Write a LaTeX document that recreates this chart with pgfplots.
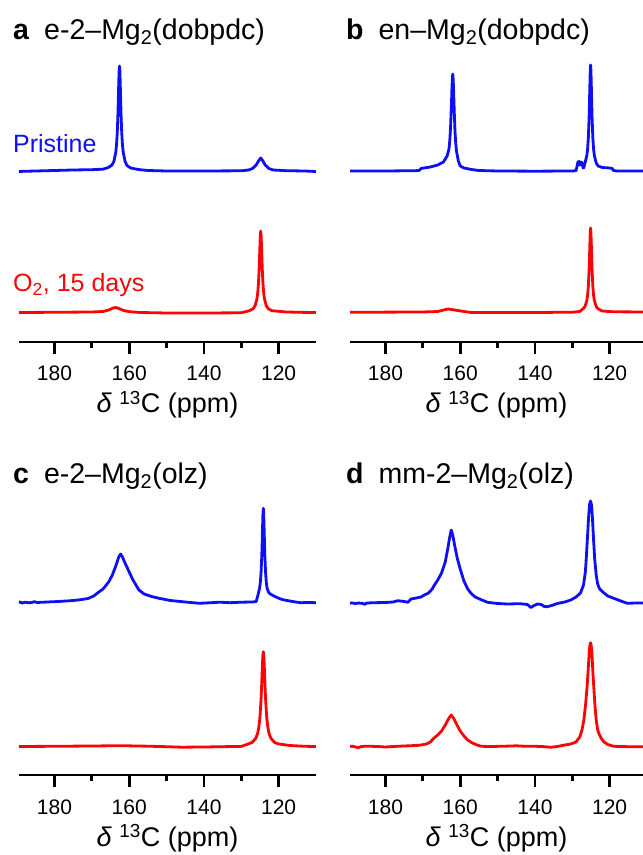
\documentclass[border=0pt]{standalone}
\usepackage{pgfplots}
\pgfplotsset{compat=1.18}
\usepackage{fontspec}
\setmainfont{Liberation Sans}
\definecolor{sblue}{RGB}{15,15,245}
\definecolor{sred}{RGB}{250,5,5}
\pgfplotsset{
  nmr/.style={
    scale only axis, width=297bp, height=300bp,
    ymin=0, ymax=300, xmin=110, xmax=189.5, x dir=reverse,
    axis x line=bottom, axis y line=none, ytick=\empty,
    axis line style={-, line width=2.8bp, black},
    xtick={120,140,160,180}, minor xtick={130,150,170},
    tick align=outside, major tick length=12bp, minor tick length=6bp,
    tick style={line width=2.8bp, black},
    /pgf/number format/assume math mode=true,
    xticklabel style={font=\fontsize{21bp}{21bp}\selectfont, anchor=base, yshift=-27bp},
    xlabel={\textit{δ} \textsuperscript{13}C (ppm)},
    xlabel style={font=\fontsize{27bp}{27bp}\selectfont, at={(axis description cs:0.5,0)}, anchor=base, yshift=-71bp},
    every axis plot/.append style={line width=2.8bp, line join=round, mark=none},
  },
  nmrR/.style={nmr, width=293bp, xmin=111.07},
}
\newcommand{\tf}{\fontsize{28.5bp}{30bp}\selectfont}
\newcommand{\lf}{\fontsize{25bp}{26bp}\selectfont}
\begin{document}
\begin{tikzpicture}
\useasboundingbox (0,0) rectangle (643bp,855bp);
% ---------------- a ----------------
\begin{axis}[nmr, at={(19bp,513bp)}, anchor=south west]
\addplot[sblue] coordinates {
(190,170.5)(185,171)(180,171.5)(175,172)(170,172.3)(167,172.8)(165.6,174.5)(164.6,177)(164.1,180.6)
(163.6,189.5)(163.4,197)(163.2,209)(163.05,224)(162.9,244)(162.8,259)(162.7,271)(162.6,276)
(162.5,271)(162.4,259)(162.3,244)(162.15,224)(162.0,209)(161.8,197)(161.6,189.5)(161.1,180.6)
(160.6,176.5)(159.6,174)(157.6,172.5)(155,171.5)(150,171)(140,171)(130,171.2)(128,172)(127,173.5)
(126,177)(125.4,181)(124.8,184)(124.2,181)(123.6,177)(122.6,173.5)(121.5,172)(118,171.3)(113,171)(110,170.5)
};
\addplot[sred] coordinates {
(190,29.5)(180,29.7)(170,30)(167,30.5)(165.5,32)(164.3,34)(163.6,34.5)(163,33.8)(161.5,31.5)(160,30.3)
(157,29.5)(150,29)(140,29)(130,29.2)(127.8,31.3)(126.8,33.4)(126.3,36.3)(125.8,43.2)(125.6,49)(125.4,58.8)
(125.25,70.3)(125.1,85.9)(125.0,97.5)(124.9,107.2)(124.8,111)(124.7,107.2)(124.6,97.5)(124.5,85.9)
(124.35,70.3)(124.2,58.8)(124.0,49)(123.8,43.2)(123.3,36.3)(122.8,33.4)(121.8,31.3)(118,30)(113,29.6)(110,29.5)
};
\end{axis}
% ---------------- b ----------------
\begin{axis}[nmrR, at={(350bp,513bp)}, anchor=south west]
\addplot[sblue] coordinates {
(190,171)(180,171)(172,171.3)(171,171.5)(170.5,173.5)(168,175)(166,177)(164.5,180)(164,183)(163.5,186)
(163.0,193)(162.8,201)(162.6,213)(162.45,228)(162.3,243)(162.2,255)(162.1,264)(162.0,268)(161.9,264)
(161.8,255)(161.7,243)(161.55,226)(161.4,211)(161.2,199)(161.0,191)(160.5,181)(160.0,176)(159,174)
(157,172.5)(155,171.5)(150,171)(140,170.8)(130,171)(129,171.3)(128.7,176)(128.5,180)(128.2,180.5)
(128.0,177)(127.8,177.5)(127.6,180)(127.4,179)(127.1,174)(126.9,174.5)(126.6,178.9)(126.1,186.5)(125.9,193)
(125.7,204.3)(125.5,224.5)(125.4,239.2)(125.3,256)(125.2,270.8)(125.1,277)(125.0,270.8)(124.9,256)
(124.8,239.2)(124.7,224.5)(124.5,204.3)(124.3,193)(124.1,186.5)(123.6,179)(123.1,176)(122,174.5)
(120,174)(119.3,173.5)(119,171.5)(118,171)(115,171)(110,171)
};
\addplot[sred] coordinates {
(190,29.7)(170,30)(166,30.5)(165,31.5)(163.3,33)(161.5,32)(159,30.5)(157,29.5)(140,29.5)(130,29.8)
(128,30.5)(127.1,33.2)(126.6,35.5)(126.1,41.6)(125.9,46.8)(125.7,55.9)(125.5,72)(125.4,83.8)(125.3,97.2)
(125.2,109)(125.1,114)(125.0,109)(124.9,97.2)(124.8,83.8)(124.7,72)(124.5,55.9)(124.3,46.8)(124.1,41.6)
(123.6,35.5)(123.1,33.2)(122,31)(119,30.2)(110,30)
};
\end{axis}
% ---------------- c ----------------
\begin{axis}[nmr, at={(19bp,80bp)}, anchor=south west]
\addplot[sblue] coordinates {
(190,172.3)(189.3,173)(188.6,172)(187.8,172.8)(187,172.3)(186.2,172.4)(185.4,173.3)(184.6,172.5)(182,173)
(179,173.5)(176,174.2)(173.6,175)(171,176.5)(169.5,179)(168.6,181.7)(167,186)(165.5,193)(164.5,200)
(163.5,210)(162.8,218)(162.3,221)(161.8,218)(161,211)(160,203)(159,195)(157.4,185)(156,181)(154,178.5)
(152,176.7)(149,174.5)(145,173)(141.2,171.7)(138,172.3)(135.8,172.8)(133,172.3)(130,172.8)(127,173)
(126,173.5)(125.5,180.5)(125.1,186.8)(124.9,192.6)(124.7,202.6)(124.5,220.5)(124.4,233.5)(124.3,248.4)
(124.2,261.5)(124.1,266.7)(124.0,261.5)(123.9,248.4)(123.8,233.5)(123.7,220.5)(123.5,202.6)(123.3,192.6)
(123.1,186.8)(122.6,182)(122,180.5)(121,178.5)(119.5,176)(118.5,175)(117,174)(115.5,173)(114,172.3)
(112,172.5)(110,172.3)
};
\addplot[sred] coordinates {
(190,28.5)(180,28.7)(170,29)(165,29.2)(162,29.3)(155,28.8)(150,28.3)(146,27.8)(140,28)(135,28.3)
(130,28.6)(128.1,31.1)(127.1,32.6)(126.1,36.8)(125.6,42)(125.3,47.9)(125.0,58)(124.7,76.2)(124.55,89.4)
(124.4,104.4)(124.3,113.9)(124.2,120.8)(124.1,123.3)(124.0,120.8)(123.9,113.9)(123.8,104.4)(123.65,89.4)
(123.5,76.2)(123.2,58)(122.9,47.9)(122.6,42)(122.1,36.8)(121.1,32.6)(120.1,31.1)(117,29.5)(113,28.7)(110,28.5)
};
\end{axis}
% ---------------- d ----------------
\begin{axis}[nmrR, at={(350bp,80bp)}, anchor=south west]
\addplot[sblue] coordinates {
(190,171.7)(189,172)(188,171.5)(187.3,172)(186,171.5)(185.6,170.7)(185,172)(183,172.3)(180,172.5)
(178,173)(176.7,174.3)(175,173.5)(174,172.7)(173.2,176)(172,176.8)(170.5,178)(169.6,180)(168.5,182)
(167.5,186)(166.9,190)(166,195)(165,202)(164,213)(163.3,227)(162.8,238)(162.4,245)(162.0,240)
(161.5,230)(160.8,217)(160,206)(159,194)(158,186)(157.1,181.7)(156,178)(154.5,175.5)(152.7,172.7)
(150,171.5)(147.3,171)(144,171.3)(142,170.5)(141.1,167.5)(140.2,169.5)(139.3,171)(138.3,170.5)
(137.5,168.5)(136.7,168.3)(135.5,169.5)(134,171.5)(132,173)(130.4,175)(129,178)(127.8,182)(127,190)
(126.5,203)(126.2,220)(125.9,240)(125.6,260)(125.35,271)(125.1,274)(124.85,270)(124.6,257)(124.3,235)
(124.0,216)(123.6,200)(123.2,191)(122.8,187)(122.4,185)(121.5,182)(120.5,179)(118.9,176.7)(117,174)
(115.3,171.7)(113,172)(110,172)
};
\addplot[sred] coordinates {
(190,28.3)(189,28.8)(188,28)(187.3,27.3)(186.5,28.5)(185,28.8)(182,28.5)(180,28)(178,28.5)(175,29)
(172,29.5)(171,29.7)(169,31)(168,33)(167,37)(166,40)(165,44)(164,50)(163,57)(162.4,60)(161.8,57)
(161,51)(160,44)(159,39)(158,35)(157,32.5)(155.5,30)(154.4,28.7)(152,28.5)(148,28.8)(145,29.2)
(143,28.8)(140,28.7)(138,28.5)(135.8,27.7)(134,28.5)(132,30)(130.4,31)(129,33)(128,38)(127.4,45)
(126.9,55)(126.4,72)(126,90)(125.7,108)(125.45,124)(125.25,131)(125.1,132.3)(124.95,130)(124.75,122)
(124.5,104)(124.2,85)(123.9,68)(123.6,55)(123.2,45)(122.9,41.7)(122.3,37)(121.5,33)(120.5,30.5)
(118.9,28.7)(115,28.3)(110,28.3)
};
\end{axis}
% ---------------- titles and labels ----------------
\node[anchor=base west, inner sep=0] at (13bp,815.7bp) {\tf\textbf{a}\hspace{15bp}e-2–Mg\textsubscript{2}(dobpdc)};
\node[anchor=base west, inner sep=0] at (346bp,815.7bp) {\tf\textbf{b}\hspace{15bp}en–Mg\textsubscript{2}(dobpdc)};
\node[anchor=base west, inner sep=0] at (13bp,371.7bp) {\tf\textbf{c}\hspace{15bp}e-2–Mg\textsubscript{2}(olz)};
\node[anchor=base west, inner sep=0] at (346bp,371.7bp) {\tf\textbf{d}\hspace{15bp}mm-2–Mg\textsubscript{2}(olz)};
\node[anchor=base west, inner sep=0, text=sblue] at (13bp,702.3bp) {\lf Pristine};
\node[anchor=base west, inner sep=0, text=sred] at (13bp,563.3bp) {\lf O\textsubscript{2}, 15 days};
\end{tikzpicture}
\end{document}
